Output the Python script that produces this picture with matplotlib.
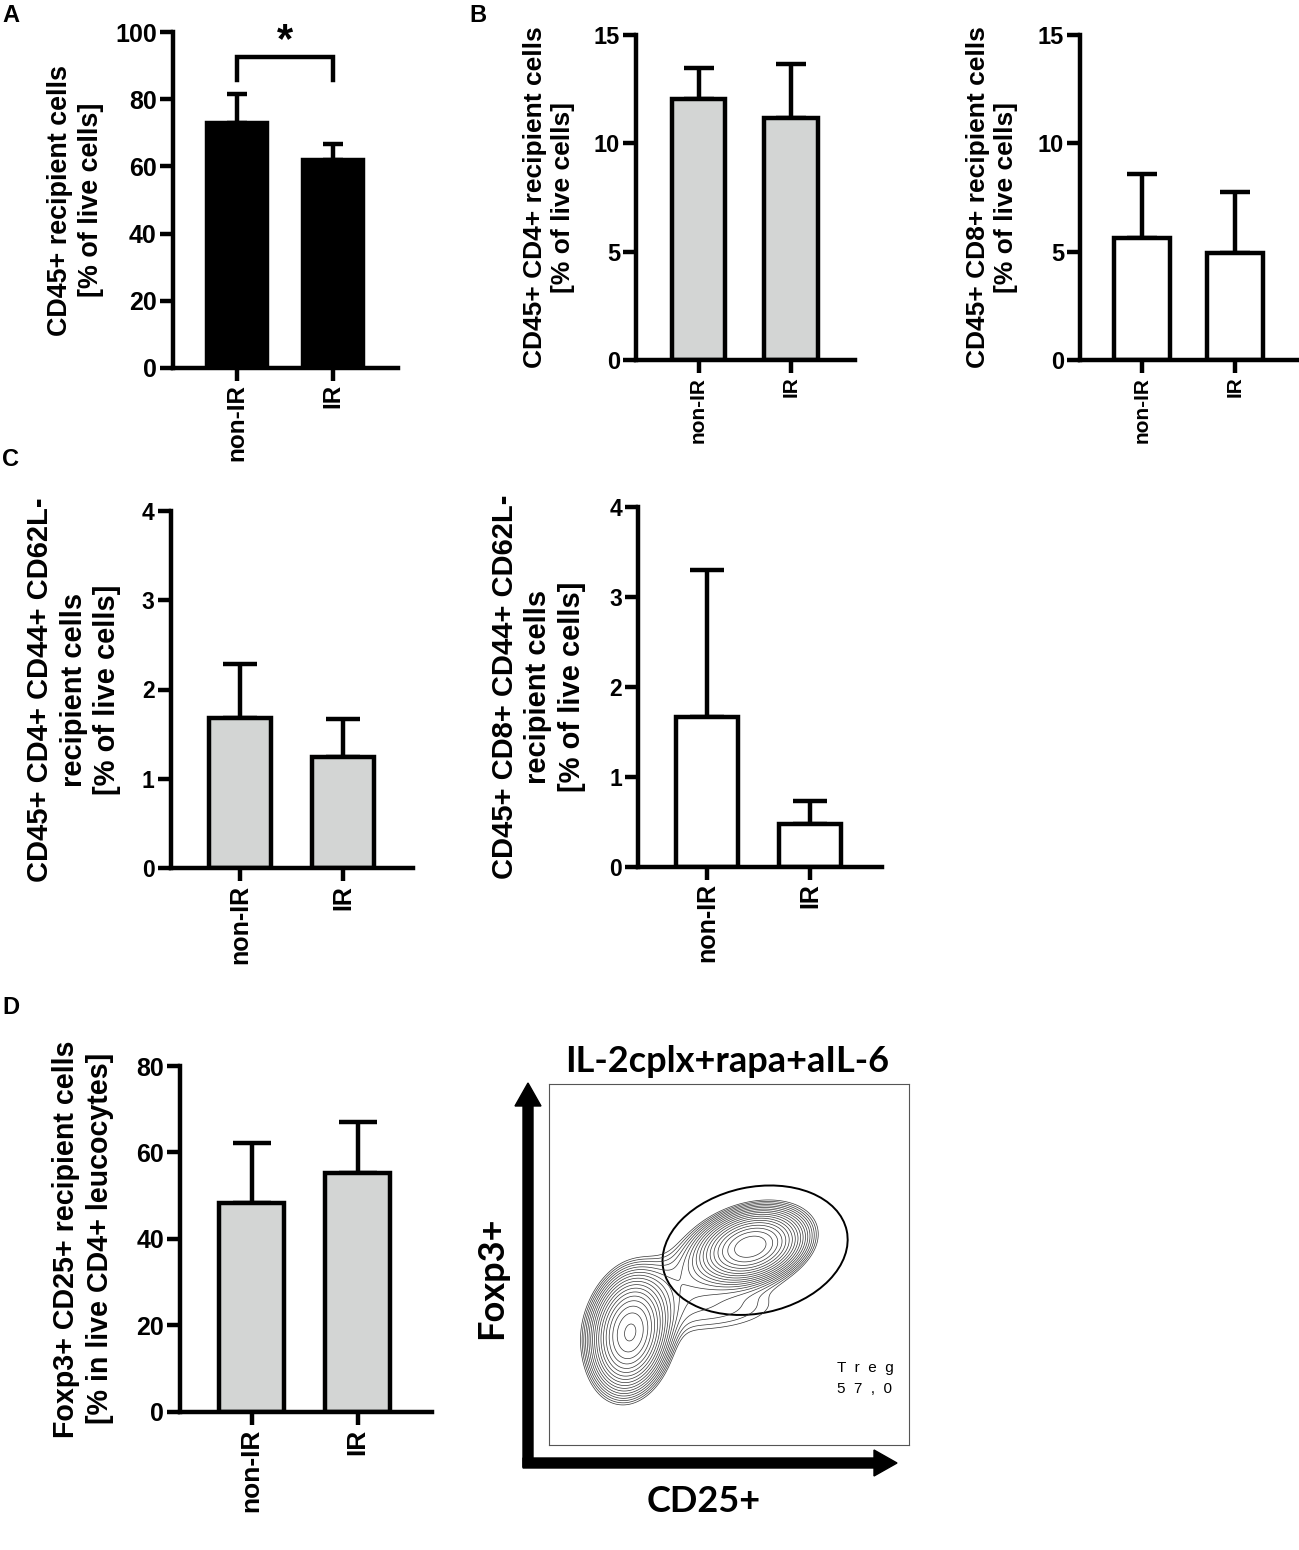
import numpy as np
import matplotlib.pyplot as plt
from matplotlib.patches import Ellipse, FancyArrow

W, H = 1299, 1550
plt.rcParams["font.family"] = ["Liberation Sans", "DejaVu Sans"]
plt.rcParams["font.weight"] = "bold"

groups = ["non-IR", "IR"]

# bar heights and upper SD
a_mean = [73.1, 62.0]
a_err = [8.5, 4.8]
b1_mean = [12.03, 11.15]
b1_err = [1.46, 2.49]
b2_mean = [5.62, 4.92]
b2_err = [2.98, 2.82]
c1_mean = [1.68, 1.25]
c1_err = [0.60, 0.42]
c2_mean = [1.66, 0.47]
c2_err = [1.64, 0.26]
d_mean = [48.2, 55.3]
d_err = [13.9, 11.7]

# flow plot: rough density model of the populations (box units 0..1)
pop_x = [0.225, 0.56, 0.40, 0.50]
pop_y = [0.31, 0.55, 0.47, 0.37]
pop_sx = [0.05, 0.068, 0.15, 0.13]
pop_sy = [0.075, 0.046, 0.10, 0.05]
pop_rho = [0.15, 0.25, 0.7, 0.35]
pop_w = [1.0, 1.15, 0.07, 0.04]
gate_xy = (0.572, 0.54)
gate_size = (0.52, 0.35)
gate_angle = 12
treg_name = "T  r  e  g"
treg_pct = "5  7  ,  0"

LW = 3.2
GRAY = "#d3d5d4"


def px_ax(left, right, bottom, top):
    return fig.add_axes([left / W, 1 - bottom / H, (right - left) / W, (bottom - top) / H])


def bar_panel(lay, mean, err, ymax, ystep, color, label, cap, width, lab_off, fs):
    spine, end, c0, c1, y0, ytop = lay
    fs_y, fs_x, fs_lab = fs
    ax = px_ax(spine, end, y0, ytop)
    sp = c1 - c0
    ax.set_xlim((spine - c0) / sp, (end - c0) / sp)
    ax.set_ylim(0, ymax)
    x = np.arange(len(groups))
    ax.bar(x, mean, width=width, color=color, edgecolor="black", linewidth=LW, zorder=2)
    ax.errorbar(x, mean, yerr=[np.zeros(len(mean)), err], fmt="none", ecolor="black",
                elinewidth=LW, capsize=cap, capthick=LW, zorder=1, clip_on=False)
    for s in ["top", "right"]:
        ax.spines[s].set_visible(False)
    for s in ["left", "bottom"]:
        ax.spines[s].set_linewidth(LW)
    ax.set_yticks(np.arange(0, ymax + ystep / 2, ystep))
    ax.set_xticks(x)
    ax.set_xticklabels(groups, rotation=90, fontsize=fs_x, fontweight="bold")
    ax.tick_params(axis="y", length=9.5, width=LW, labelsize=fs_y, pad=2)
    ax.tick_params(axis="x", length=9, width=LW, pad=3)
    for t in ax.get_yticklabels():
        t.set_fontweight("bold")
    ax.set_ylabel(label, fontsize=fs_lab, fontweight="bold", va="center", ha="center",
                  linespacing=1.25)
    ax.yaxis.set_label_coords(-lab_off / (end - spine), 0.5)
    return ax


fig = plt.figure(figsize=(W / 100, H / 100), dpi=100)

# A
axA = bar_panel((172.7, 398, 237, 333, 367.7, 32.3), a_mean, a_err, 100, 20, "black",
                "CD45+ recipient cells\n[% of live cells]", 7.5, 0.62, 97, (18, 17.5, 19.4))
axA.plot([0, 0, 1, 1], [85.8, 92.5, 92.5, 85.8], color="black", lw=LW, clip_on=False,
         solid_joinstyle="miter")
axA.text(0.5, 97.5, "*", ha="center", va="center", fontsize=30, fontweight="bold",
         clip_on=False)

# B
bar_panel((636, 855, 698.5, 791, 360, 35), b1_mean, b1_err, 15, 5, GRAY,
          "CD45+ CD4+ recipient cells\n[% of live cells]", 10.8, 0.58, 87, (17, 15, 19))
bar_panel((1080, 1299, 1142.3, 1235, 360, 35), b2_mean, b2_err, 15, 5, "white",
          "CD45+ CD8+ recipient cells\n[% of live cells]", 11, 0.6, 88, (17, 15, 19))

# C
bar_panel((170.7, 413.3, 240.3, 343, 868.3, 510.7), c1_mean, c1_err, 4, 1, GRAY,
          "CD45+ CD4+ CD44+ CD62L-\nrecipient cells\n[% of live cells]", 12, 0.6, 97,
          (16.5, 18, 21))
bar_panel((638.3, 881.7, 707.3, 810, 866.7, 506.7), c2_mean, c2_err, 4, 1, "white",
          "CD45+ CD8+ CD44+ CD62L-\nrecipient cells\n[% of live cells]", 12, 0.6, 100,
          (16.5, 18, 21))

# D
bar_panel((180, 431.7, 251.7, 357.5, 1411.7, 1066), d_mean, d_err, 80, 20, GRAY,
          "Foxp3+ CD25+ recipient cells\n[% in live CD4+ leucocytes]", 14, 0.61, 97,
          (18, 19, 20.6))

# flow cytometry contour plot
axF = px_ax(549, 909.3, 1445, 1084.3)
gx, gy = np.meshgrid(np.linspace(0, 1, 400), np.linspace(0, 1, 400))
dens = np.zeros_like(gx)
for cx, cy, sx, sy, r, w in zip(pop_x, pop_y, pop_sx, pop_sy, pop_rho, pop_w):
    u = (gx - cx) / sx
    v = (gy - cy) / sy
    dens += w * np.exp(-(u * u - 2 * r * u * v + v * v) / (2 * (1 - r * r)))
levels = np.geomspace(0.025, 0.82, 18) * dens.max()
axF.contour(gx, gy, dens, levels=levels, colors="#333333", linewidths=0.5)
axF.add_patch(Ellipse(gate_xy, gate_size[0], gate_size[1], angle=gate_angle,
                      fill=False, edgecolor="black", lw=1.4))
axF.text(0.8, 0.213, treg_name, fontsize=11, fontweight="normal", va="center")
axF.text(0.8, 0.155, treg_pct, fontsize=11, fontweight="normal", va="center")
axF.set_xlim(0, 1)
axF.set_ylim(0, 1)
axF.set_xticks([])
axF.set_yticks([])
for s in axF.spines.values():
    s.set_linewidth(0.8)
    s.set_edgecolor("#555555")

ov = fig.add_axes([0, 0, 1, 1], zorder=-1)
ov.set_xlim(0, W)
ov.set_ylim(H, 0)
ov.axis("off")
ov.add_patch(FancyArrow(528, 1467, 0, -384, width=10, head_width=26, head_length=23,
                        length_includes_head=True, color="black"))
ov.add_patch(FancyArrow(523, 1463, 374, 0, width=10, head_width=26, head_length=23,
                        length_includes_head=True, color="black"))

flow_font = ["Lato", "DejaVu Sans"]
fig.text(726.7 / W, 1 - 1061.7 / H, "IL-2cplx+rapa+aIL-6", ha="center", va="center",
         fontsize=26, fontweight="bold", family=flow_font)
fig.text(491.7 / W, 1 - 1278 / H, "Foxp3+", ha="center", va="center", rotation=90,
         fontsize=26, fontweight="bold", family=flow_font)
fig.text(703.3 / W, 1 - 1501.7 / H, "CD25+", ha="center", va="center",
         fontsize=26, fontweight="bold", family=flow_font)

for letter, x, y in [("A", 11, 15), ("B", 478, 15), ("C", 11, 460), ("D", 11, 1007)]:
    fig.text(x / W, 1 - y / H, letter, ha="center", va="center", fontsize=17,
             fontweight="bold")

fig.savefig("out.png", dpi=100)
